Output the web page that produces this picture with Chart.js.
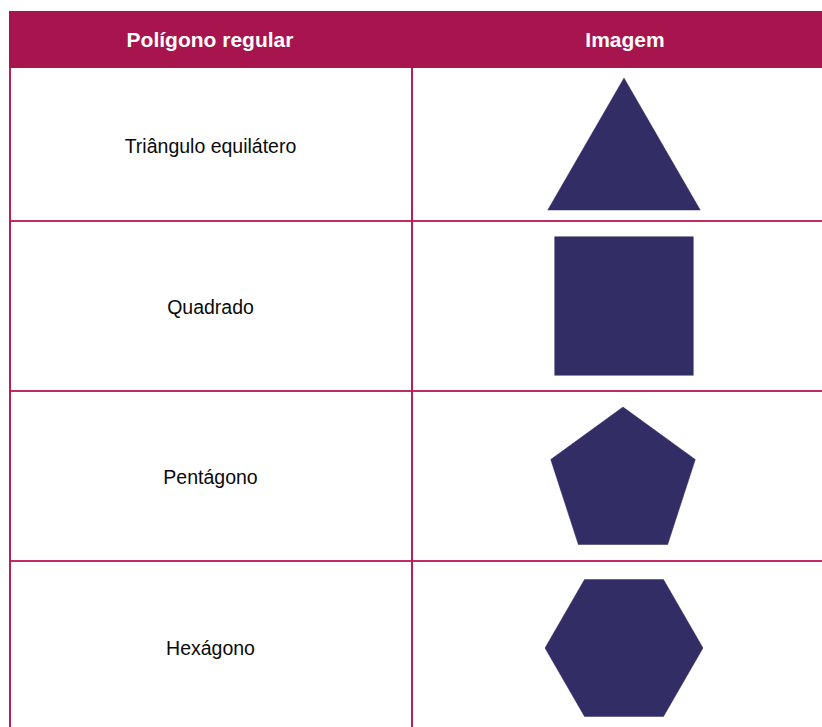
<!DOCTYPE html>
<html>
<head>
<meta charset="utf-8">
<script src="https://cdn.jsdelivr.net/npm/chart.js@4.4.0/dist/chart.umd.min.js"></script>
<style>
  html, body { margin: 0; padding: 0; background: #fff; overflow: hidden; }
  body { width: 822px; height: 727px; position: relative; font-family: "Liberation Sans", Arial, sans-serif; }
  .head { position: absolute; left: 9px; top: 11px; width: 830px; height: 57px; background: #a8144e; }
  .head div { position: absolute; top: 0; height: 57px; line-height: 57px; text-align: center; color: #fff; font-weight: bold; font-size: 21px; }
  .cell { position: absolute; display: flex; align-items: center; justify-content: center; font-size: 19.5px; color: #0a0a0a; padding-top: 4px; box-sizing: border-box; }
  .hline { position: absolute; left: 9px; width: 830px; height: 1.5px; background: #c02a65; }
  .vline { position: absolute; top: 68px; width: 1.5px; height: 670px; background: #b81d5c; }
  .shape { position: absolute; }
</style>
</head>
<body>
<div class="head">
  <div id="h0" style="left:0;width:402px"></div>
  <div id="h1" style="left:402px;width:428px"></div>
</div>
<div id="rows"></div>
<script>
// Table content
const headers = ['Polígono regular', 'Imagem'];
const polygonNames = ['Triângulo equilátero', 'Quadrado', 'Pentágono', 'Hexágono'];
// one equal value per side of each regular polygon
const triangleSides = [1, 1, 1];
const squareSides = [1, 1, 1, 1];
const pentagonSides = [1, 1, 1, 1, 1];
const hexagonSides = [1, 1, 1, 1, 1, 1];
const sideSeries = [triangleSides, squareSides, pentagonSides, hexagonSides];

const fillColor = '#332d66';

// layout: row tops / heights and the drawing box for each shape
const rowTops = [68, 220, 390, 560];
const rowHeights = [152, 170, 170, 172];
const shapeBoxes = [
    { left: 536, top: 78, size: 176, startAngle: 0 },
    { left: 526, top: 208, size: 196, startAngle: 45 },
    { left: 547, top: 407, size: 152, startAngle: 0 },
    { left: 545, top: 569, size: 158, startAngle: 30 },
];

document.getElementById('h0').textContent = headers[0];
document.getElementById('h1').textContent = headers[1];

const rows = document.getElementById('rows');
polygonNames.forEach((name, i) => {
    const cell = document.createElement('div');
    cell.className = 'cell';
    cell.style.left = '10px';
    cell.style.width = '401px';
    cell.style.top = rowTops[i] + 'px';
    cell.style.height = rowHeights[i] + 'px';
    cell.textContent = name;
    rows.appendChild(cell);

    if (i > 0) {
        const line = document.createElement('div');
        line.className = 'hline';
        line.style.top = rowTops[i] + 'px';
        rows.appendChild(line);
    }
});

[9, 411].forEach(x => {
    const v = document.createElement('div');
    v.className = 'vline';
    v.style.left = x + 'px';
    rows.appendChild(v);
});

// each polygon is a radar chart with equal values on every axis
sideSeries.forEach((sides, i) => {
    const box = shapeBoxes[i];
    const canvas = document.createElement('canvas');
    canvas.className = 'shape';
    canvas.width = box.size;
    canvas.height = box.size;
    canvas.style.left = box.left + 'px';
    canvas.style.top = box.top + 'px';
    canvas.style.width = box.size + 'px';
    canvas.style.height = box.size + 'px';
    rows.appendChild(canvas);

    new Chart(canvas.getContext('2d'), {
        type: 'radar',
        data: {
            labels: sides.map(() => ''),
            datasets: [{
                data: sides,
                backgroundColor: fillColor,
                borderColor: fillColor,
                borderWidth: 0.5,
                pointRadius: 0,
                tension: 0,
                fill: true,
            }]
        },
        options: {
            responsive: false,
            animation: false,
            devicePixelRatio: 1,
            layout: { padding: 0 },
            plugins: {
                legend: { display: false },
                tooltip: { enabled: false }
            },
            scales: {
                r: {
                    min: 0,
                    max: 1,
                    startAngle: box.startAngle,
                    ticks: { display: false },
                    grid: { display: false },
                    angleLines: { display: false },
                    pointLabels: { display: false }
                }
            }
        }
    });
});
</script>
</body>
</html>
